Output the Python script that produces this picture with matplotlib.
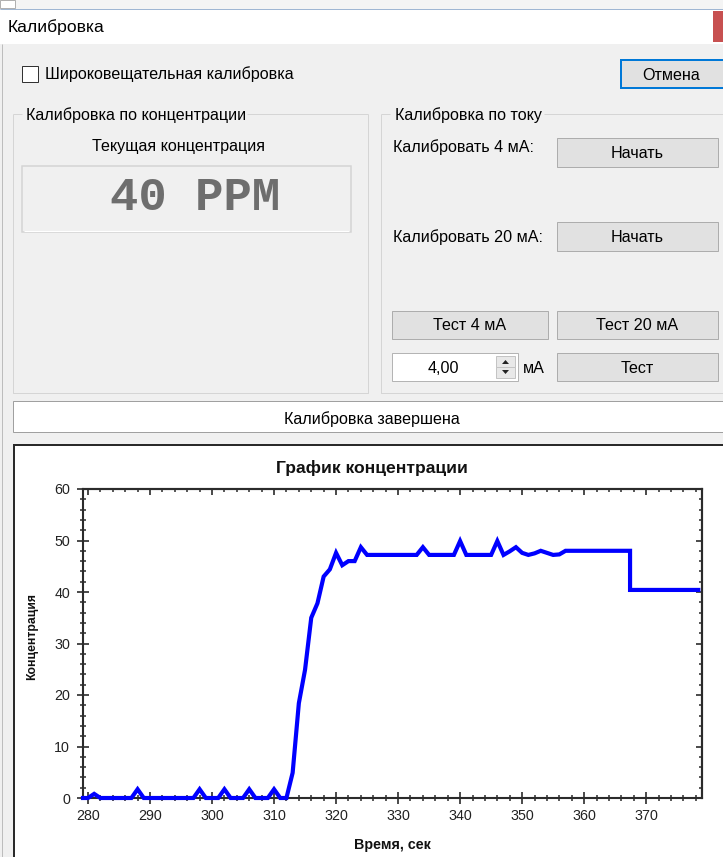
import matplotlib
matplotlib.use("Agg")
import matplotlib.pyplot as plt
from matplotlib.patches import Rectangle, Polygon
from matplotlib.ticker import MultipleLocator, NullFormatter

# ---------------- data ----------------
time_s = ([279.2] + list(range(280, 368)) + [367.4, 367.4]
          + list(range(368, 379)) + [378.4])
conc = [0.0,
        0.0, 0.8, 0.0, 0.0, 0.0, 0.0, 0.0, 0.0, 1.7, 0.0,            # 280-289
        0.0, 0.0, 0.0, 0.0, 0.0, 0.0, 0.0, 0.0, 1.7, 0.0,            # 290-299
        0.0, 0.0, 1.7, 0.0, 0.0, 0.0, 1.7, 0.0, 0.0, 0.0,            # 300-309
        1.7, 0.0, 0.0, 4.9, 18.4, 24.9, 35.0, 37.8, 43.0, 44.4,      # 310-319
        47.6, 45.2, 46.0, 46.0, 48.7, 47.2, 47.2, 47.2, 47.2, 47.2,  # 320-329
        47.2, 47.2, 47.2, 47.2, 48.7, 47.2, 47.2, 47.2, 47.2, 47.2,  # 330-339
        49.9, 47.2, 47.2, 47.2, 47.2, 47.2, 49.9, 47.2, 47.9, 48.7,  # 340-349
        47.6, 47.2, 47.5, 48.0, 47.6, 47.2, 47.3, 48.0, 48.0, 48.0,  # 350-359
        48.0, 48.0, 48.0, 48.0, 48.0, 48.0, 48.0, 48.0,              # 360-367
        48.0, 40.4,                                                  # 367.4
        40.4, 40.4, 40.4, 40.4, 40.4, 40.4, 40.4, 40.4, 40.4, 40.4, 40.4,  # 368-378
        40.4]

x_ticks = [280, 290, 300, 310, 320, 330, 340, 350, 360, 370]
y_ticks = [0, 10, 20, 30, 40, 50, 60]

chart_title = "График концентрации"
x_label = "Время, сек"
y_label = "Концентрация"

# ---------------- figure ----------------
W, H = 723, 857
fig = plt.figure(figsize=(W / 100, H / 100), dpi=100)
fig.patch.set_facecolor("#f0f0f0")
bg = fig.add_axes([0, 0, 1, 1])
bg.set_xlim(0, W)
bg.set_ylim(H, 0)
bg.axis("off")

FONT = "Liberation Sans"
PX = 0.72  # points per pixel
BODY = 11.6


def rect(x0, y0, x1, y1, fc="none", ec="none", lw=1, z=1):
    bg.add_patch(Rectangle((x0, y0), x1 - x0, y1 - y0, facecolor=fc,
                           edgecolor=ec, linewidth=lw * PX, zorder=z))


def line(xs, ys, color, lw=1, z=2):
    bg.plot(xs, ys, color=color, linewidth=lw * PX, zorder=z,
            solid_capstyle="butt")


def txt(x, y, s, size=BODY, ha="left", color="black", weight="normal",
        family=FONT, z=3):
    bg.text(x, y, s, fontsize=size, ha=ha, va="center", color=color,
            fontweight=weight, family=family, zorder=z)


def button(x0, y0, x1, y1, label, ec="#adadad", lw=1):
    rect(x0, y0, x1, y1, fc="#e1e1e1", ec=ec, lw=lw)
    txt((x0 + x1) / 2, (y0 + y1) / 2 + 1, label, ha="center")


# window behind / top strip
rect(0, 0, W, 9, fc="#f4f4f4")
rect(0, 0, 15, 8, fc="white", ec="#b0b0b0")
line([0, W], [9, 9], "#9fb6d3", 1)
# title bar
rect(0, 9.5, W, 44, fc="white")
txt(8, 27, "Калибровка", size=12.6)
rect(713, 11, W + 2, 42, fc="#c75050")
# left window border
line([2, 2], [44, H], "#bdbdbd", 1)

# checkbox
rect(22, 66, 38, 82, fc="white", ec="#333333", lw=1)
txt(45, 74, "Широковещательная калибровка")
# cancel button
rect(621, 60, W + 3, 88, fc="#e1e1e1", ec="#0078d7", lw=2)
txt(671, 75, "Отмена", ha="center")

# group boxes
gb = "#d5d5d5"
line([13, 13, 368, 368], [114, 393, 393, 114], gb)
line([13, 22], [114, 114], gb)
line([247, 368], [114, 114], gb)
txt(26, 115, "Калибровка по концентрации")
txt(179, 146, "Текущая концентрация", ha="center")
rect(22, 166, 351, 232, fc="#f0f0f0", ec="#d4d4d4", lw=1.5)
line([24, 349], [230.5, 230.5], "white", 1)
txt(195, 198, "40 PPM", size=34, ha="center", color="#6e6e6e",
    weight="bold", family="Liberation Mono")

line([381, 381, W], [114, 393, 393], gb)
line([381, 390], [114, 114], gb)
line([544, W], [114, 114], gb)
txt(395, 115, "Калибровка по току")
txt(393, 147, "Калибровать 4 мА:")
button(557, 138, 718, 167, "Начать")
txt(393, 237, "Калибровать 20 мА:")
button(557, 222, 718, 251, "Начать")
button(392, 311, 548, 339, "Тест 4 мА")
button(557, 311, 718, 339, "Тест 20 мА")
# numeric input
rect(392, 353, 518, 381, fc="white", ec="#b4b4b4", lw=1)
txt(443, 368, "4,00", ha="center")
rect(496, 356, 515, 367, fc="#e8e8e8", ec="#c4c4c4", lw=1)
rect(496, 367, 515, 378, fc="#e8e8e8", ec="#c4c4c4", lw=1)
bg.add_patch(Polygon([[502, 364], [509, 364], [505.5, 360]], closed=True,
                     facecolor="#222222", edgecolor="none", zorder=3))
bg.add_patch(Polygon([[502, 370], [509, 370], [505.5, 374]], closed=True,
                     facecolor="#222222", edgecolor="none", zorder=3))
txt(523, 368, "мА")
button(557, 353, 718, 381, "Тест")

# status box
rect(13, 401, W + 3, 432, fc="white", ec="#a0a0a0", lw=1)
txt(372, 419, "Калибровка завершена", ha="center")

# chart panel
rect(13.5, 444.5, W + 3, H + 3, fc="white", ec="#2a2a2a", lw=2)

# ---------------- chart ----------------
L, R, T, B = 83, 702, 489, 798
ax = fig.add_axes([L / W, (H - B) / H, (R - L) / W, (B - T) / H])
ax.set_zorder(5)
ax.set_facecolor("white")
ax.plot(time_s, conc, color="#0000ff", linewidth=3.0, clip_on=False,
        zorder=6, solid_joinstyle="miter")
ax.set_xlim(279.2, 379)
ax.set_ylim(0, 60)
ax.set_xticks(x_ticks)
ax.set_yticks(y_ticks)
ax.xaxis.set_minor_locator(MultipleLocator(2))
ax.yaxis.set_minor_locator(MultipleLocator(2))
spc = "#2b2b2b"
for s in ax.spines.values():
    s.set_color(spc)
    s.set_linewidth(1.5)
ax.tick_params(which="major", direction="inout", length=8.5, width=1.2,
               color=spc, labelsize=10.3, labelcolor="#222222")
ax.tick_params(which="minor", direction="inout", length=4.3, width=1.1,
               color=spc)
ax.tick_params(axis="x", which="major", pad=4)
ax.tick_params(axis="y", which="major", pad=5)
for lab in ax.get_xticklabels() + ax.get_yticklabels():
    lab.set_family(FONT)

top = ax.secondary_xaxis("top")
top.set_xticks(x_ticks)
top.xaxis.set_minor_locator(MultipleLocator(2))
top.xaxis.set_major_formatter(NullFormatter())
top.tick_params(which="major", direction="in", length=4.5, width=1.2,
                color=spc)
top.tick_params(which="minor", direction="in", length=2.5, width=1.1,
                color=spc)
top.spines["top"].set_color(spc)
top.spines["top"].set_linewidth(1.5)

rgt = ax.secondary_yaxis("right")
rgt.set_yticks(y_ticks)
rgt.yaxis.set_minor_locator(MultipleLocator(2))
rgt.yaxis.set_major_formatter(NullFormatter())
rgt.tick_params(which="major", direction="in", length=4.5, width=1.2,
                color=spc)
rgt.tick_params(which="minor", direction="in", length=2.5, width=1.1,
                color=spc)
rgt.spines["right"].set_color(spc)
rgt.spines["right"].set_linewidth(1.5)

# titles / labels placed in pixel space
bg.text(372, 468, chart_title, fontsize=12.6, fontweight="bold", ha="center",
        va="center", family=FONT, color="#111111", zorder=3)
bg.text(392, 845, x_label, fontsize=10.3, fontweight="bold", ha="center",
        va="center", family=FONT, color="#111111", zorder=3)
bg.text(32, 636, y_label, fontsize=8.8, fontweight="bold", ha="center",
        va="center", rotation=90, family=FONT, color="#111111", zorder=3)

fig.savefig("out.png", dpi=100, facecolor=fig.get_facecolor())
